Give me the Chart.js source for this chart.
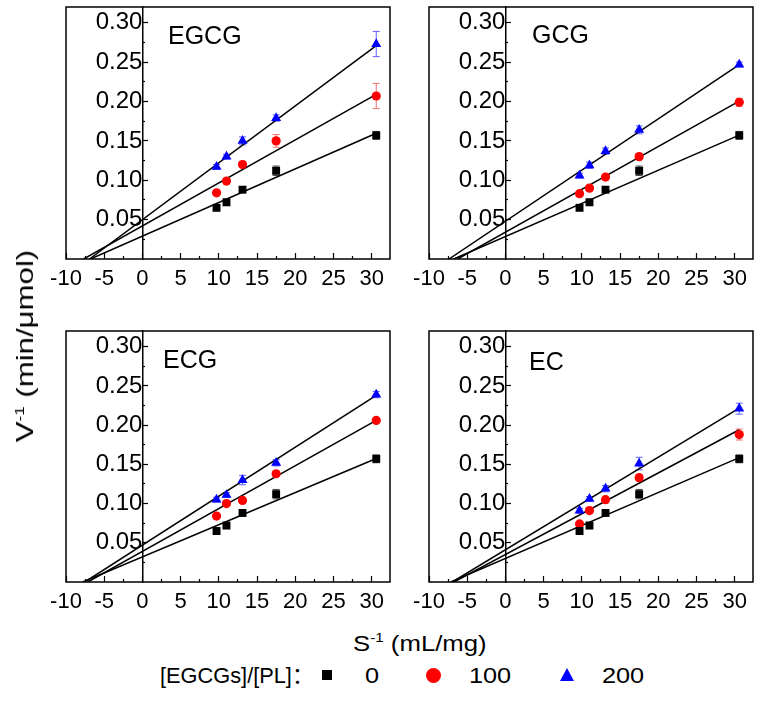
<!DOCTYPE html>
<html>
<head>
<meta charset="utf-8">
<script src="https://cdn.jsdelivr.net/npm/chart.js@4.4.1/dist/chart.umd.min.js"></script>
<style>
  html, body { margin: 0; padding: 0; background: #fff; }
  body { width: 761px; height: 701px; position: relative; overflow: hidden; font-family: 'Liberation Sans', Arial, sans-serif; color: #000; }
  canvas { position: absolute; }
  .txt { position: absolute; white-space: nowrap; line-height: 1; }
  .sup { font-size: 13px; position: relative; top: -9px; }
  .leg { position: absolute; white-space: nowrap; line-height: 1; font-size: 22px; transform: translateX(-50%) scaleX(1.15); }
</style>
</head>
<body>
<canvas id="c0" width="400" height="305" style="left:0;top:0"></canvas>
<canvas id="c1" width="381" height="305" style="left:380px;top:0"></canvas>
<canvas id="c2" width="400" height="305" style="left:0;top:320px"></canvas>
<canvas id="c3" width="381" height="305" style="left:380px;top:320px"></canvas>

<div class="txt" id="t0" style="left:168px;top:23px;font-size:25px"></div>
<div class="txt" id="t1" style="left:532px;top:22px;font-size:25px"></div>
<div class="txt" id="t2" style="left:163px;top:347px;font-size:25px"></div>
<div class="txt" id="t3" style="left:529px;top:349px;font-size:25px"></div>

<div class="txt" style="left:353px;top:633px;font-size:22px;transform-origin:0 50%;transform:scaleX(1.17)">S<span class="sup">-1</span> (mL/mg)</div>
<div class="txt" style="left:25px;top:346px;font-size:24px;transform:translate(-50%,-50%) rotate(-90deg) scaleX(1.3)">V<span class="sup">-1</span> (min/μmol)</div>

<div class="txt" id="legTitle" style="left:160px;top:665px;font-size:22px;font-family:'Liberation Sans','Noto Sans CJK SC',Arial,sans-serif;transform-origin:0 50%;transform:scaleX(0.99)"></div>
<div style="position:absolute;left:322px;top:670px;width:10px;height:10px;background:#000"></div>
<div class="leg" id="leg0" style="left:372px;top:665px"></div>
<div style="position:absolute;left:426px;top:668px;width:15px;height:15px;border-radius:50%;background:#f00"></div>
<div class="leg" id="leg1" style="left:490px;top:665px"></div>
<div style="position:absolute;left:560px;top:668px;width:0;height:0;border-left:7.5px solid transparent;border-right:7.5px solid transparent;border-bottom:13px solid #00f"></div>
<div class="leg" id="leg2" style="left:623px;top:665px"></div>

<script>
// ---------------- data ----------------
const panelNames = ['EGCG', 'GCG', 'ECG', 'EC'];
const legendTitle = '[EGCGs]/[PL]：';
const ratioLabels = ['0', '100', '200'];
const xValues = [9.7, 11.0, 13.1, 17.5, 30.6];          // S^-1 (mL/mg)

const xMajorTicks = [-10, -5, 0, 5, 10, 15, 20, 25, 30];
const xMinorTicks = [-7.5, -2.5, 2.5, 7.5, 12.5, 17.5, 22.5, 27.5];
const yMajorTicks = [0.05, 0.10, 0.15, 0.20, 0.25, 0.30];
const yMinorTicks = [0.025, 0.075, 0.125, 0.175, 0.225, 0.275];

// V^-1 values (min/µmol), per panel: ratio 0, 100, 200
const egcg0   = [0.065, 0.072, 0.088, 0.112, 0.157];
const egcg100 = [0.084, 0.099, 0.120, 0.150, 0.207];
const egcg200 = [0.117, 0.130, 0.150, 0.179, 0.273];
const gcg0    = [0.065, 0.072, 0.088, 0.112, 0.157];
const gcg100  = [0.083, 0.090, 0.104, 0.130, 0.199];
const gcg200  = [0.106, 0.119, 0.137, 0.164, 0.247];
const ecg0    = [0.065, 0.072, 0.088, 0.112, 0.157];
const ecg100  = [0.084, 0.100, 0.104, 0.138, 0.206];
const ecg200  = [0.105, 0.111, 0.130, 0.152, 0.239];
const ec0     = [0.065, 0.072, 0.088, 0.112, 0.157];
const ec100   = [0.074, 0.091, 0.105, 0.133, 0.188];
const ec200   = [0.091, 0.106, 0.119, 0.151, 0.221];

// error bars (±)
const egcg0Err   = [0.003, 0.004, 0.003, 0.006, 0.005];
const egcg100Err = [0.002, 0.003, 0.004, 0.008, 0.016];
const egcg200Err = [0.003, 0.003, 0.005, 0.004, 0.016];
const gcg0Err    = [0.003, 0.004, 0.003, 0.006, 0.005];
const gcg100Err  = [0.002, 0.002, 0.002, 0.003, 0.005];
const gcg200Err  = [0.003, 0.004, 0.004, 0.005, 0.003];
const ecg0Err    = [0.003, 0.004, 0.003, 0.006, 0.005];
const ecg100Err  = [0.002, 0.003, 0.003, 0.003, 0.002];
const ecg200Err  = [0.003, 0.003, 0.006, 0.004, 0.004];
const ec0Err     = [0.003, 0.004, 0.003, 0.006, 0.005];
const ec100Err   = [0.003, 0.003, 0.003, 0.004, 0.007];
const ec200Err   = [0.003, 0.003, 0.004, 0.008, 0.007];

// linear fits: intercept and slope for ratio 0, 100, 200
const egcgIntercepts = [0.029, 0.042, 0.050];
const egcgSlopes     = [0.00427, 0.00546, 0.00722];
const gcgIntercepts  = [0.0285, 0.034, 0.048];
const gcgSlopes      = [0.00421, 0.00544, 0.0065];
const ecgIntercepts  = [0.032, 0.039, 0.047];
const ecgSlopes      = [0.0041, 0.00546, 0.00624];
const ecIntercepts   = [0.030, 0.035, 0.041];
const ecSlopes       = [0.0042, 0.0052, 0.0059];

// ---------------- build ----------------
const FONT = "'Liberation Sans', Arial, sans-serif";
const panels = [
  { series: [egcg0, egcg100, egcg200], errs: [egcg0Err, egcg100Err, egcg200Err], b: egcgIntercepts, m: egcgSlopes },
  { series: [gcg0, gcg100, gcg200], errs: [gcg0Err, gcg100Err, gcg200Err], b: gcgIntercepts, m: gcgSlopes },
  { series: [ecg0, ecg100, ecg200], errs: [ecg0Err, ecg100Err, ecg200Err], b: ecgIntercepts, m: ecgSlopes },
  { series: [ec0, ec100, ec200], errs: [ec0Err, ec100Err, ec200Err], b: ecIntercepts, m: ecSlopes }
];
const markerColors = ['#000000', '#ff0000', '#0000ff'];
const errColors = ['#444444', '#f07070', '#6060ff'];
const markerStyles = ['rect', 'circle', 'triangle'];
const markerRadius = [5.6, 4.6, 5.8];
const paddings = [
  { left: 66, top: 7, right: 10, bottom: 6 },
  { left: 49, top: 7, right: 8, bottom: 6 },
  { left: 66, top: 11, right: 10, bottom: 3 },
  { left: 49, top: 11, right: 8, bottom: 3 }
];
const X_MIN = -10, X_MAX = 32.4, Y_MIN = 0, Y_MAX = 0.32;
const FIT_END = 30.6;

document.getElementById('legTitle').textContent = legendTitle;
ratioLabels.forEach((r, i) => { document.getElementById('leg' + i).textContent = r; });
panelNames.forEach((n, i) => { document.getElementById('t' + i).textContent = n; });

const framePlugin = {
  id: 'frame',
  afterDraw(chart) {
    const a = chart.chartArea, ctx = chart.ctx;
    ctx.save();
    ctx.strokeStyle = '#000';
    ctx.lineWidth = 1.5;
    ctx.strokeRect(a.left, a.top, a.right - a.left, a.bottom - a.top);
    ctx.restore();
  }
};

const errorBarPlugin = {
  id: 'errbars',
  beforeDatasetsDraw(chart) {
    const ctx = chart.ctx, xs = chart.scales.x, ys = chart.scales.y;
    chart.data.datasets.forEach(ds => {
      if (!ds.errors) return;
      ctx.save();
      ctx.strokeStyle = ds.errColor;
      ctx.lineWidth = 1;
      ds.data.forEach((p, i) => {
        const e = ds.errors[i];
        const px = xs.getPixelForValue(p.x);
        const y1 = ys.getPixelForValue(p.y + e), y2 = ys.getPixelForValue(p.y - e);
        ctx.beginPath();
        ctx.moveTo(px, y1); ctx.lineTo(px, y2);
        ctx.moveTo(px - 3.5, y1); ctx.lineTo(px + 3.5, y1);
        ctx.moveTo(px - 3.5, y2); ctx.lineTo(px + 3.5, y2);
        ctx.stroke();
      });
      ctx.restore();
    });
  }
};

const noPadV = a => { a.width = 0; a.paddingTop = 0; a.paddingBottom = 0; };

panels.forEach((p, k) => {
  const datasets = [];
  // fit lines
  p.b.forEach((b, j) => {
    const m = p.m[j];
    const xStart = -b / m;
    datasets.push({
      data: [{ x: xStart, y: b + m * xStart }, { x: FIT_END, y: b + m * FIT_END }],
      showLine: true, borderColor: '#000', borderWidth: 1.5, pointRadius: 0, fill: false, order: 2
    });
  });
  // markers
  p.series.forEach((vals, j) => {
    datasets.push({
      data: vals.map((v, i) => ({ x: xValues[i], y: v })),
      errors: p.errs[j], errColor: errColors[j],
      showLine: false, pointStyle: markerStyles[j], pointRadius: markerRadius[j],
      backgroundColor: markerColors[j], borderColor: markerColors[j], borderWidth: 0, order: 1
    });
  });

  new Chart(document.getElementById('c' + k), {
    type: 'scatter',
    data: { datasets },
    plugins: [framePlugin, errorBarPlugin],
    options: {
      responsive: false, animation: false, devicePixelRatio: 1,
      layout: { padding: paddings[k] },
      plugins: { legend: { display: false }, tooltip: { enabled: false } },
      scales: {
        xMinor: {
          axis: 'x', type: 'linear', position: 'bottom', weight: 0, min: X_MIN, max: X_MAX,
          afterBuildTicks: a => { a.ticks = xMinorTicks.map(v => ({ value: v })); },
          afterFit: a => { a.height = 0; a.paddingLeft = 0; a.paddingRight = 0; },
          grid: { drawOnChartArea: false, drawTicks: true, tickLength: -3, tickColor: '#000', tickWidth: 1.2 },
          border: { display: false },
          ticks: { display: false }
        },
        x: {
          axis: 'x', type: 'linear', position: 'bottom', weight: 1, min: X_MIN, max: X_MAX,
          afterBuildTicks: a => { a.ticks = xMajorTicks.map(v => ({ value: v })); },
          afterFit: a => { a.height = 40; a.paddingLeft = 0; a.paddingRight = 0; },
          grid: { drawOnChartArea: false, drawTicks: true, tickLength: -6, tickColor: '#000', tickWidth: 1.2 },
          border: { display: false },
          ticks: { autoSkip: false, maxRotation: 0, padding: 13, color: '#000',
                   font: { family: FONT, size: 22 }, callback: v => String(v) }
        },
        y: {
          axis: 'y', type: 'linear', position: { x: 0 }, min: Y_MIN, max: Y_MAX,
          afterBuildTicks: a => { a.ticks = yMajorTicks.map(v => ({ value: v })); },
          afterFit: noPadV,
          grid: { drawOnChartArea: false, drawTicks: true, tickLength: -6, tickColor: '#000', tickWidth: 1.2 },
          border: { display: true, color: '#000', width: 1.5 },
          ticks: { autoSkip: false, padding: 17, color: '#000',
                   font: { family: FONT, size: 24 }, callback: v => v.toFixed(2) }
        },
        yMinor: {
          axis: 'y', type: 'linear', position: { x: 0 }, min: Y_MIN, max: Y_MAX,
          afterBuildTicks: a => { a.ticks = yMinorTicks.map(v => ({ value: v })); },
          afterFit: noPadV,
          grid: { drawOnChartArea: false, drawTicks: true, tickLength: -3, tickColor: '#000', tickWidth: 1.2 },
          border: { display: false },
          ticks: { display: false }
        }
      }
    }
  });
});
</script>
</body>
</html>
